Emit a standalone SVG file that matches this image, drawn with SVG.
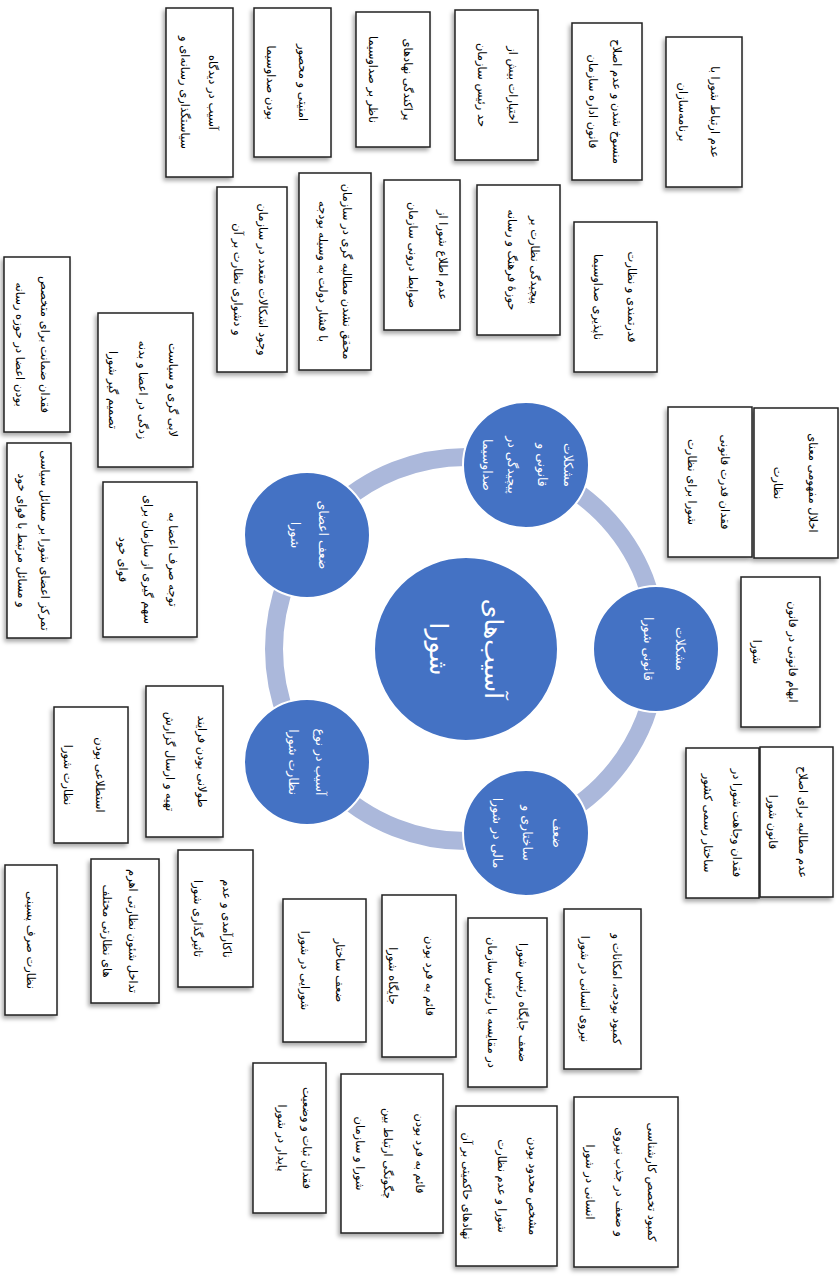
<svg xmlns="http://www.w3.org/2000/svg" width="840" height="1279" viewBox="0 0 840 1279">
<style>
.box rect{fill:#fff;stroke:#222;stroke-width:1.5;filter:url(#sh)}
.box text{font-family:"DejaVu Sans",sans-serif;font-size:11.5px;fill:#000;text-anchor:middle;direction:rtl;dominant-baseline:central}
.node circle{fill:#4472c4;stroke:#fff;stroke-width:2}
.node text{font-family:"DejaVu Sans",sans-serif;font-size:12.5px;fill:#fff;text-anchor:middle;direction:rtl;dominant-baseline:central}
#center text{font-size:25px}
</style>
<defs>
<filter id="sh" x="-20%" y="-20%" width="140%" height="140%">
<feDropShadow dx="-2" dy="3" stdDeviation="2" flood-color="#000" flood-opacity="0.35"/>
</filter>
</defs>
<g id="connectors">
<circle cx="466" cy="649" r="192" fill="none" stroke="#abb8db" stroke-width="18"/>
</g>
<g id="center" class="node"><circle cx="466" cy="649" r="92"/><g transform="translate(466,649) rotate(90)"><text y="-27">آسیب‌های</text><text y="28">شورا</text></g></g>
<g id="n-top" class="node"><circle cx="526" cy="465" r="63"/><g transform="translate(527,465) rotate(90)"><text y="-41">مشکلات</text><text y="-15">قانونی و</text><text y="15">پیچیدگی در</text><text y="40">صداوسیما</text></g></g>
<g id="n-right" class="node"><circle cx="656" cy="649" r="63"/><g transform="translate(656,649) rotate(90)"><text y="-24">مشکلات</text><text y="8">قانونی شورا</text></g></g>
<g id="n-botright" class="node"><circle cx="526" cy="833" r="63"/><g transform="translate(527,833) rotate(90)"><text y="-30">ضعف</text><text y="0">ساختاری و</text><text y="30">مالی در شورا</text></g></g>
<g id="n-botleft" class="node"><circle cx="307" cy="762" r="63"/><g transform="translate(307,762) rotate(90)"><text y="-13">آسیب در نوع</text><text y="14">نظارت شورا</text></g></g>
<g id="n-left" class="node"><circle cx="307" cy="535" r="63"/><g transform="translate(307,535) rotate(90)"><text y="-16">ضعف اعضای</text><text y="12">شورا</text></g></g>

<g id="b-a" class="box"><rect x="166" y="8" width="67" height="169"/><g transform="translate(199.5,92.5) rotate(90)"><text y="-13.5">آسیب در دیدگاه</text><text y="14.5">سیاستگذاری رسانه‌ای و</text></g></g>
<g id="b-b" class="box"><rect x="254" y="8" width="77" height="149"/><g transform="translate(292.5,82.5) rotate(90)"><text y="-10.5">امنیتی و محصور</text><text y="21.5">بودن صداوسیما</text></g></g>
<g id="b-c" class="box"><rect x="356" y="12" width="74" height="135"/><g transform="translate(393,79.5) rotate(90)"><text y="-15">پراکندگی نهادهای</text><text y="20">ناظر بر صداوسیما</text></g></g>
<g id="b-d" class="box"><rect x="455" y="10" width="83" height="150"/><g transform="translate(496.5,85) rotate(90)"><text y="-16.5">اختیارات بیش از</text><text y="14.5">حد رئیس سازمان</text></g></g>
<g id="b-e" class="box"><rect x="572" y="23" width="70" height="157"/><g transform="translate(607,101.5) rotate(90)"><text y="-10">منسوخ شدن و عدم اصلاح</text><text y="14">قانون اداره سازمان</text></g></g>
<g id="b-f" class="box"><rect x="666" y="37" width="76" height="150"/><g transform="translate(704,112) rotate(90)"><text y="-11">عدم ارتباط شورا با</text><text y="21">برنامه‌سازان</text></g></g>
<g id="b-g" class="box"><rect x="217" y="187" width="70" height="185"/><g transform="translate(252,279.5) rotate(90)"><text y="-11">وجود اشکالات متعدد در سازمان</text><text y="14">و دشواری نظارت بر آن</text></g></g>
<g id="b-h" class="box"><rect x="299" y="173" width="72" height="197"/><g transform="translate(335,271.5) rotate(90)"><text y="-12">محقق نشدن مطالبه گری در سازمان</text><text y="12">با فشار دولت به وسیله بودجه</text></g></g>
<g id="b-i" class="box"><rect x="384" y="180" width="76" height="150"/><g transform="translate(422,255) rotate(90)"><text y="-21">عدم اطلاع شورا از</text><text y="9">ضوابط درونی سازمان</text></g></g>
<g id="b-j" class="box"><rect x="477" y="185" width="83" height="150"/><g transform="translate(518.5,260) rotate(90)"><text y="-16.5">پیچیدگی نظارت بر</text><text y="6.5">حوزهٔ فرهنگ و رسانه</text></g></g>
<g id="b-k" class="box"><rect x="574" y="222" width="83" height="150"/><g transform="translate(615.5,297) rotate(90)"><text y="-16.5">قدرتمندی و نظارت</text><text y="17.5">ناپذیری صداوسیما</text></g></g>
<g id="b-l" class="box"><rect x="4" y="257" width="66" height="175"/><g transform="translate(37,344.5) rotate(90)"><text y="-8">فقدان ضمانت برای متخصص</text><text y="17">بودن اعضا در حوزه رسانه</text></g></g>
<g id="b-m" class="box"><rect x="98" y="313" width="95" height="154"/><g transform="translate(145.5,390) rotate(90)"><text y="-27.5">لابی گری و سیاست</text><text y="2.5">زدگی در اعضا و بدنه</text><text y="32.5">تصمیم گیر شورا</text></g></g>
<g id="b-n" class="box"><rect x="7" y="443" width="64" height="195"/><g transform="translate(39,540.5) rotate(90)"><text y="-6">تمرکز اعضای شورا بر مسائل سیاسی</text><text y="17">و مسائل مرتبط با قوای خود</text></g></g>
<g id="b-o" class="box"><rect x="103" y="482" width="94" height="155"/><g transform="translate(150,559.5) rotate(90)"><text y="-23">توجه صرف اعضا به</text><text y="2">سهم گیری از سازمان برای</text><text y="27">قوای خود</text></g></g>
<g id="b-p" class="box"><rect x="754" y="408" width="84" height="150"/><g transform="translate(796,483) rotate(90)"><text y="-17">اخلال مفهومی معنای</text><text y="18">نظارت</text></g></g>
<g id="b-q" class="box"><rect x="668" y="407" width="84" height="150"/><g transform="translate(710,482) rotate(90)"><text y="-15">فقدان قدرت قانونی</text><text y="18">شورا برای نظارت</text></g></g>
<g id="b-r" class="box"><rect x="741" y="577" width="79" height="150"/><g transform="translate(780.5,652) rotate(90)"><text y="-12.5">ابهام قانونی در قانون</text><text y="23.5">شورا</text></g></g>
<g id="b-s" class="box"><rect x="760" y="747" width="73" height="150"/><g transform="translate(796.5,822) rotate(90)"><text y="-6.5">عدم مطالبه برای اصلاح</text><text y="23.5">قانون شورا</text></g></g>
<g id="b-t" class="box"><rect x="686" y="748" width="73" height="150"/><g transform="translate(722.5,823) rotate(90)"><text y="-14.5">فقدان وجاهت شورا در</text><text y="14.5">ساختار رسمی کشور</text></g></g>
<g id="b-u" class="box"><rect x="54" y="707" width="74" height="136"/><g transform="translate(91,775) rotate(90)"><text y="-9">استطلاعی بودن</text><text y="23">نظارت شورا</text></g></g>
<g id="b-v" class="box"><rect x="146" y="686" width="77" height="151"/><g transform="translate(184.5,761.5) rotate(90)"><text y="-17.5">طولانی بودن فرایند</text><text y="14.5">تهیه و ارسال گزارش</text></g></g>
<g id="b-w" class="box"><rect x="178" y="850" width="75" height="137"/><g transform="translate(215.5,918.5) rotate(90)"><text y="-11.5">ناکارآمدی و عدم</text><text y="17.5">تاثیرگذاری شورا</text></g></g>
<g id="b-x" class="box"><rect x="91" y="859" width="68" height="144"/><g transform="translate(125,931) rotate(90)"><text y="-8">تداخل شئون نظارتی اهرم</text><text y="18">های نظارتی مختلف</text></g></g>
<g id="b-y" class="box"><rect x="5" y="865" width="52" height="150"/><g transform="translate(31,940) rotate(90)"><text y="0">نظارت صرف پسینی</text></g></g>
<g id="b-z1" class="box"><rect x="283" y="899" width="83" height="143"/><g transform="translate(324.5,970.5) rotate(90)"><text y="-15.5">ضعف ساختار</text><text y="19.5">شورایی در شورا</text></g></g>
<g id="b-z2" class="box"><rect x="382" y="895" width="74" height="162"/><g transform="translate(419,976) rotate(90)"><text y="-11">قائم به فرد بودن</text><text y="26">جایگاه شورا</text></g></g>
<g id="b-z3" class="box"><rect x="468" y="918" width="79" height="169"/><g transform="translate(507.5,1002.5) rotate(90)"><text y="-15.5">ضعف جایگاه رئیس شورا</text><text y="15.5">در مقایسه با رئیس سازمان</text></g></g>
<g id="b-z4" class="box"><rect x="564" y="909" width="77" height="160"/><g transform="translate(602.5,989) rotate(90)"><text y="-14.5">کمبود بودجه، امکانات و</text><text y="17.5">نیروی انسانی در شورا</text></g></g>
<g id="b-b1" class="box"><rect x="253" y="1063" width="73" height="150"/><g transform="translate(289.5,1138) rotate(90)"><text y="-17.5">فقدان ثبات و وضعیت</text><text y="7.5">پایدار در شورا</text></g></g>
<g id="b-b2" class="box"><rect x="341" y="1074" width="102" height="159"/><g transform="translate(392,1153.5) rotate(90)"><text y="-28">قائم به فرد بودن</text><text y="4">چگونگی ارتباط بین</text><text y="32">شورا و سازمان</text></g></g>
<g id="b-b3" class="box"><rect x="456" y="1106" width="101" height="160"/><g transform="translate(506.5,1186) rotate(90)"><text y="-26.5">مشخص محدود بودن</text><text y="4.5">شورا و عدم نظارت</text><text y="39.5">نهادهای حاکمیتی بر آن</text></g></g>
<g id="b-b4" class="box"><rect x="574" y="1097" width="104" height="170"/><g transform="translate(626,1182) rotate(90)"><text y="-26">کمبود تخصص کارشناسی</text><text y="6">و ضعف در جذب نیروی</text><text y="36">انسانی در شورا</text></g></g>
</svg>
